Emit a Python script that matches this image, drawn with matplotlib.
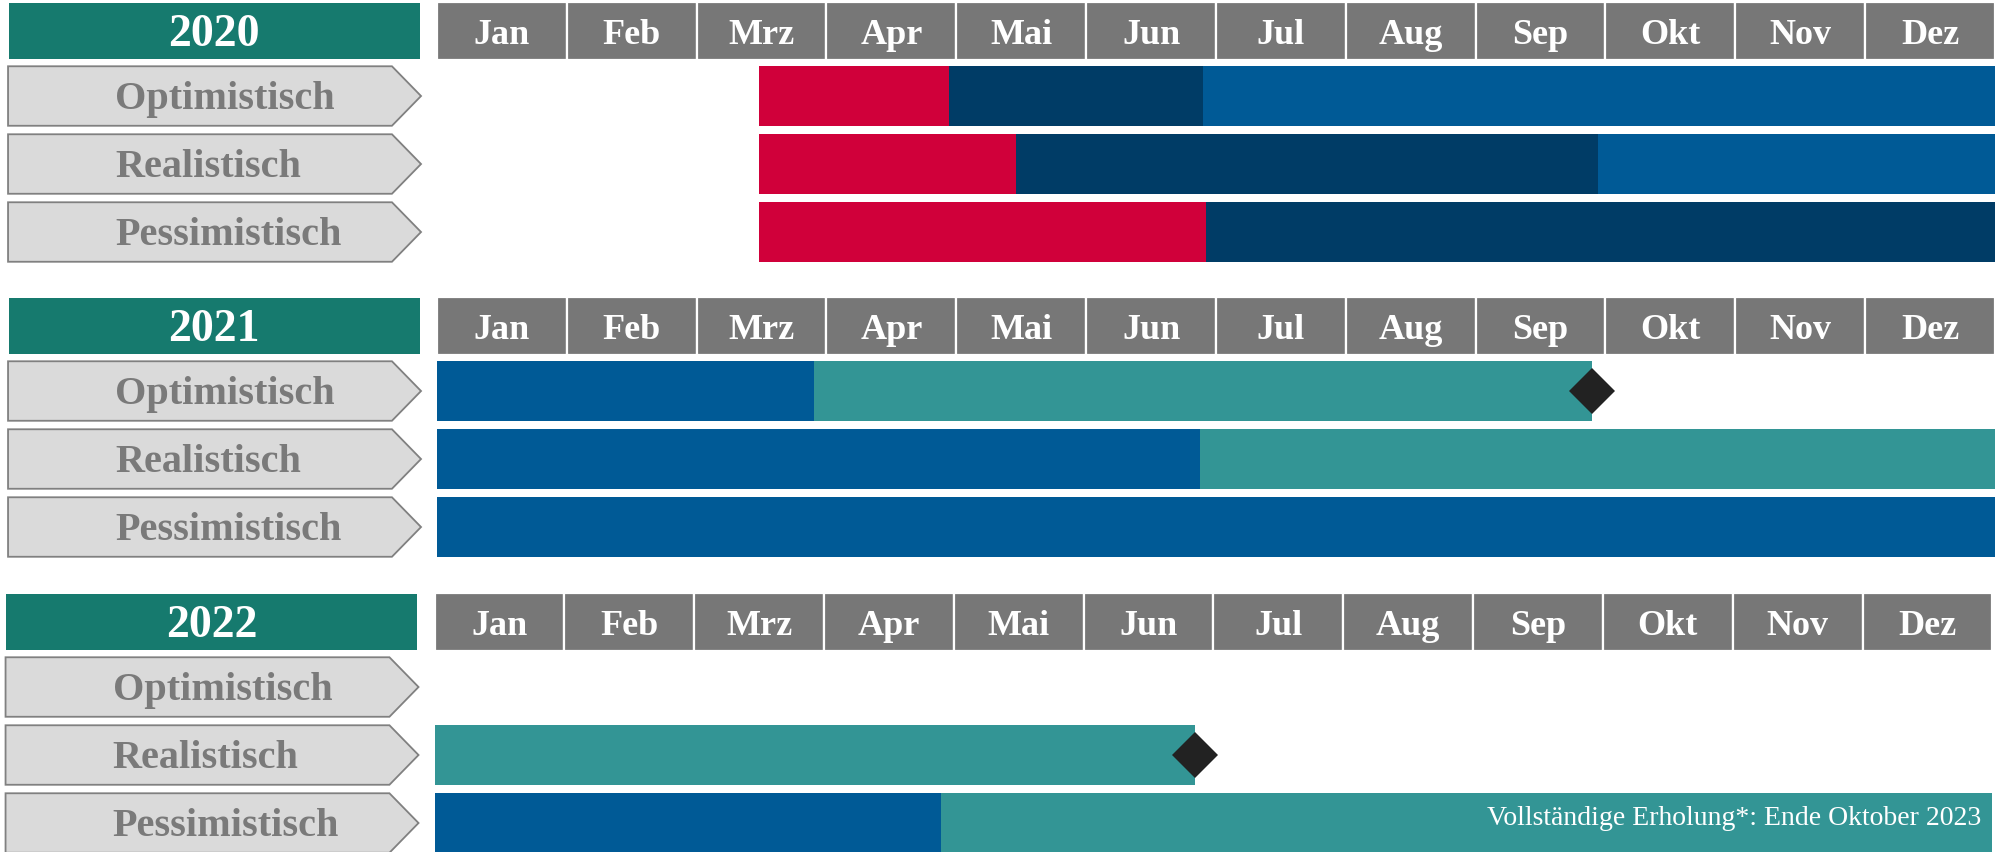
import matplotlib
matplotlib.use('Agg')
import matplotlib.pyplot as plt
from matplotlib.patches import Polygon

# ---------------- data ----------------
years = ['2020', '2021', '2022']
months = ['Jan', 'Feb', 'Mrz', 'Apr', 'Mai', 'Jun', 'Jul', 'Aug', 'Sep', 'Okt', 'Nov', 'Dez']
scenarios = ['Optimistisch', 'Realistisch', 'Pessimistisch']

# phase boundaries in months (0 = start Jan, 12 = end Dez) and phase of each segment
bounds_2020 = {'Optimistisch': [2.48, 3.94, 5.90, 12.0],
               'Realistisch': [2.48, 4.46, 8.94, 12.0],
               'Pessimistisch': [2.48, 5.92, 12.0]}
phases_2020 = {'Optimistisch': ['rot', 'navy', 'blau'],
               'Realistisch': ['rot', 'navy', 'blau'],
               'Pessimistisch': ['rot', 'navy']}

bounds_2021 = {'Optimistisch': [0.0, 2.90, 8.90],
               'Realistisch': [0.0, 5.88, 12.0],
               'Pessimistisch': [0.0, 12.0]}
phases_2021 = {'Optimistisch': ['blau', 'teal'],
               'Realistisch': ['blau', 'teal'],
               'Pessimistisch': ['blau']}

bounds_2022 = {'Optimistisch': [],
               'Realistisch': [0.0, 5.86],
               'Pessimistisch': [0.0, 3.90, 12.0]}
phases_2022 = {'Optimistisch': [],
               'Realistisch': ['teal'],
               'Pessimistisch': ['blau', 'teal']}

milestones_2021 = {'Optimistisch': 8.90}
milestones_2022 = {'Realistisch': 5.86}

note_2022 = 'Vollständige Erholung*: Ende Oktober 2023'

all_bounds = [bounds_2020, bounds_2021, bounds_2022]
all_phases = [phases_2020, phases_2021, phases_2022]
all_milestones = [{}, milestones_2021, milestones_2022]

# ---------------- style ----------------
phase_colors = {'rot': '#D0003A', 'navy': '#003C66', 'blau': '#005A96', 'teal': '#339595'}
year_color = '#167A6E'
header_gray = '#777777'
label_fill = '#DADADA'
label_edge = '#808080'
label_text = '#7A7A7A'
FONT = 'Liberation Serif'

W, H = 2002, 852
fig = plt.figure(figsize=(W / 100, H / 100), dpi=100)

month_px = 129.83
x0_px = 437.0
sec_top_px = [0, 295, 591]
sec_shift_px = [0, 0, -2.5]
sec_h_px = 295.0
row_px = 68.0

y_top = -1.412
y_bot = y_top + sec_h_px / row_px
hdr_y = -0.956
hdr_h = 0.824
row_h = 0.875

for s, year in enumerate(years):
    top = sec_top_px[s]
    ax = fig.add_axes([sec_shift_px[s] / W, (H - top - sec_h_px) / H, 1.0, sec_h_px / H])
    ax.set_xlim(-x0_px / month_px, (W - x0_px) / month_px)
    ax.set_ylim(y_bot, y_top)
    ax.axis('off')

    # year box
    ax.barh(hdr_y, 3.166, left=-3.297, height=hdr_h, color=year_color, linewidth=0)
    ax.text(-1.718, hdr_y + 15 / row_px, year, ha='center', va='baseline',
            color='white', fontsize=33, fontweight='bold', family=FONT)

    # month header
    for m, name in enumerate(months):
        ax.barh(hdr_y, 1.0, left=m, height=hdr_h + 0.03, color=header_gray,
                edgecolor='white', linewidth=1.6)
        ax.text(m + 0.5, hdr_y + 12.5 / row_px, name, ha='center', va='baseline',
                color='white', fontsize=26, fontweight='bold', family=FONT)

    for i, sc in enumerate(scenarios):
        # label arrow
        xl, xb, xt = -3.304, -0.347, -0.123
        poly = Polygon([(xl, i - row_h / 2), (xb, i - row_h / 2), (xt, i),
                        (xb, i + row_h / 2), (xl, i + row_h / 2)], closed=True,
                       facecolor=label_fill, edgecolor=label_edge, linewidth=1.3)
        ax.add_patch(poly)
        ax.text(-2.48, i + 13 / row_px, sc, ha='left', va='baseline',
                color=label_text, fontsize=29, fontweight='bold', family=FONT)

        b = all_bounds[s][sc]
        ph = all_phases[s][sc]
        for k, p in enumerate(ph):
            ax.barh(i, b[k + 1] - b[k], left=b[k], height=row_h,
                    color=phase_colors[p], linewidth=0)

        if sc in all_milestones[s]:
            ax.plot([all_milestones[s][sc]], [i], marker='D', markersize=23,
                    color='#222222', markeredgewidth=0, zorder=5)

    if s == 2:
        ax.text(12 - 11 / month_px, 2 + 2 / row_px, note_2022, ha='right', va='baseline',
                color='white', fontsize=20, family=FONT, zorder=6)

fig.savefig('out.png', dpi=100)
